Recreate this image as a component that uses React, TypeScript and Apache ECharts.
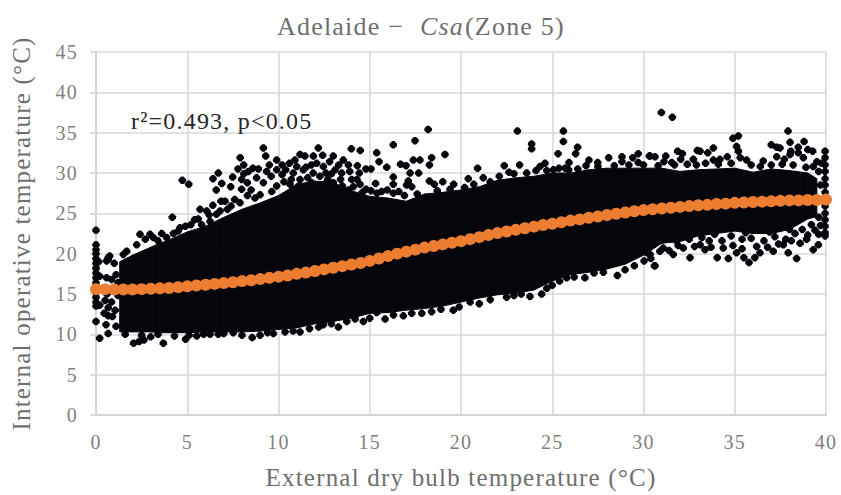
import React, { useEffect, useRef } from "react";
import * as echarts from "echarts";

const xTicks = [0, 5, 10, 15, 20, 25, 30, 35, 40];
const titleBefore = "Adelaide −";
const titleItalic = "Csa";
const titleAfter = "(Zone 5)";
const xName = "External dry bulb temperature (°C)";
const yName = "Internal operative temperature (°C)";
const note = "r²=0.493, p<0.05";

// Continuous dense cloud: [x, lower edge, upper edge]
const cloudBand: number[][] = [
  [1.3,10.3,19],[2,10.3,19.8],[3,10.3,20.8],[3.5,10.2,21.3],[4,10.2,21.7],[5,10.2,22.7],[6,10.3,23.4],[7,10.3,24.5],[8,10.3,25.5],[9,10.4,26.3],[10,10.6,27.2],
  [11,10.8,28.6],[12,11.3,29],[13,11.6,28.8],[14,12,27.8],[15,12.6,27.1],[16,12.7,26.9],[17,13,26.5],[18,13.2,27.4],[19,13.5,27.6],[20,14,27.9],
  [21,14.5,28.3],[22,14.9,29.1],[23,15.1,29.4],[24,15.5,29.6],[25,16.6,30],[26,17.4,30],[27,17.7,30.4],[28,18.1,30.6],[29,18.7,30.6],[30,19.8,30.6],
  [31,21.3,30.6],[32,21.5,30.2],[33,22.2,30.4],[34,22.5,30.5],[35,22.8,30.6],[36,22.5,30.1],[37,22.5,30.5],[38,23,30.3],[39,24.3,30],[39.5,24.6,29.3],
];

// Individually visible points around the cloud
const upperLeftPoints: number[][] = [
  [4.73,29.1],[5.08,28.6],[4.18,24.5],[4.6,23.2],[9.17,33.1],[9.3,32.1],[7.9,31.9],[8.09,31],[7.78,30.5],[6.7,30],[6.41,29.3],[6.89,28.7],[7.38,28.3],[6.59,27.9],[7.49,29.5],[7.98,29.2],
  [8.35,30.2],[8.29,28.8],[7.98,28],[8.8,29.4],[8.9,30.5],[9.35,30.2],[9.9,31.6],[9.17,28.8],[9.63,27.7],[8.71,26.9],[8.99,27.3],[6.85,26.5],[7.07,26.5],[7.4,25.9],[7.89,26.3],[5.7,25.5],[6.07,25.3],[5.6,24.3],[6.25,24],[5.79,23.6],
  [2.41,22.4],[2.96,22.4],[3.6,22.5],[4.24,22.5],[2.23,21.1],[1.68,20.3],[0.67,19.5],[0.58,19.1],[3.14,22],[3.87,22],[1.5,19.9],
  [8.5,27.9],[8.1,29.9],[8.6,30.6],[9.6,29.6],[9.9,30.4],[10.2,29.8],[10.3,28.9],[9.9,28.4],[10.2,31],[9.5,31],[6.4,26],[7.2,25.5],[6.8,25.3],[6.2,24.8],[5.2,23.6],[5.4,24.2],[6.6,24.9],[2.7,21.8],[3.4,21.6],[4.5,22.8],[4.9,23.4],[7.6,26.7],[8.3,27.2],
];
const upperMidPoints: number[][] = [
  [18.2,35.4],[17.48,34],[16.29,33.5],[12.18,33.1],[13.99,33],[14.48,32.8],[15.38,32.5],[19.12,32.3],[18.39,31.9],[15.51,31.4],[17.39,31.6],[17.75,31.6],[18.27,31],[16.69,31.1],[16.99,30.9],[15.93,30.7],[14.32,30.9],[14.79,30.5],[15.07,30.5],[14.43,30],[17.21,30],[17.68,30],[16.29,29.5],[20.91,30.6],[20.4,29.3],[19,28.9],[18.27,29],[18.54,28.6],[15.32,28.7],[16.29,28.6],[17.11,29],[17.3,28.3],[17.02,28.5],[19.6,28.6],[15.07,27.8],[15.65,27.7],[15.96,27.9],[16.29,27.5],[16.59,27.7],
  [11.18,32.3],[10.9,31.6],[11.45,32.1],[11.91,32.1],[12.42,32.2],[13,32.1],[13.55,31.6],[13.83,31],[11,30.8],[11.36,30.4],[12.09,31.2],[12.46,30.8],[13.1,30.4],[13.46,30],[12.27,29.6],[11.18,29.2],[10.81,30],[11.82,28.8],[13,28.8],[14.01,29.2],[14.47,28.6],[13.83,27.9],[12.82,28.3],[10.63,28.6],
  [10.7,29.2],[11.1,28.4],[11.6,29.4],[11.5,30.7],[12.7,29.2],[12.9,29.9],[12.5,28.6],[13.4,29.2],[13.5,28.4],[12.1,28.4],[13.9,30.2],[14.3,29.2],[14.1,28.3],[14.8,28],[10.4,30.4],[10.6,31.2],[11.8,31],[12.8,31.4],[13.3,31],[11.9,30],[12.6,30],[14.6,27.6],[15.4,27.5],[16.9,27.2],[17.6,27.4],[18.7,27.8],[19.4,28],[20.2,28.2],[20.7,28.6],[21.6,28.9],
];
const upperRightPoints: number[][] = [
  [23.09,35.2],[25.61,35.2],[25.61,33.9],[23.87,33.6],[23.87,33],[26.39,33.2],[25.32,32.4],[26.28,32.4],[21.22,29.4],[22.37,30.9],[23.21,31],[22.63,30.1],[24.6,31.2],[24.33,30.8],[24.11,30.3],[25.92,31.3],[27.01,31.6],[27.49,31.3],[28.09,31.9],[28.82,32],[28.82,31.4],[29.41,31.9],[29.71,32.4],[29.71,31.3],[30.32,32.1],[25.06,30.4],[25.37,30.6],[25.7,30.6],[26.85,30.9],
  [30.98,37.5],[31.58,36.9],[37.92,35.2],[34.9,34.3],[35.2,34.6],[35.1,33.3],[35.2,32.7],[38.03,33.8],[38.8,33.9],[37,33.5],[37.3,33.2],[37.48,33.1],[38.48,33.2],[38.07,32.7],[39,32.9],[39.27,32.7],[38.48,32.5],[38.76,31.9],[37.72,31.7],[37.3,32],[36.56,31.5],[38.03,32.3],[33.83,33.1],[33.52,32.5],[32.95,32.8],[33.1,32.7],[31.87,32.7],[32.13,32.4],[31.22,32.1],[30.36,32.1],[30.63,32],[32.73,31.7],[32.04,31.7],[31.12,31.4],[31.55,31.3],[33.83,31.6],[34.19,31.7],[34.59,32],[35.65,31.6],
  [22.1,29.6],[22.9,29.9],[23.6,30],[24.7,30.3],[25.9,30.4],[26.4,30.5],[27.5,30.8],[28.4,30.9],[29.2,31],[30,31],[30.8,30.9],[31.7,31],[32.4,31.1],[32.9,31],[33.4,31.2],[34.1,31.1],[34.8,31.2],[35.3,31.9],[35.9,31],[36.4,30.8],[37,31],[37.6,31.1],[38.2,31],[38.9,30.7],[39.3,30.8],[39.5,31.4],
];
const lowerPoints: number[][] = [
  [0.2,9.5],[2.06,8.9],[2.36,9.1],[2.63,9.3],[3.69,8.9],[4.91,9.4],[3,9.7],[5.52,9.8],[6.25,10],[6.7,10],[7.52,10.2],[8.56,9.6],[8.99,9.9],[9.72,10.1],[0.67,10.1],[0.55,11.2],[0.67,12.3],[0.67,13.3],[0.58,17],[0.67,19.3],
  [15.38,12.7],[16.84,12.3],[15.84,11.9],[14.65,11.6],[13.74,11.6],[13.28,10.9],[12.46,11.2],[11.18,10.3],[10.36,10.3],[17.85,12.6],[18.39,12.8],[19.58,13],[21,13.8],[22.5,14.6],[23.78,14.7],[24.42,15],[25,16.1],[25.79,17],[26.79,17],[27.29,17.6],[28.57,17.3],[28.99,18],[30.03,19.1],[30.63,18.5],
  [30.6,18.5],[30.36,19.9],[30.9,20.3],[31.63,19.9],[32.55,19.5],[33.37,20.5],[34.04,19.5],[34.65,19.4],[35.5,19.5],[35.78,18.9],[36.1,19.5],[38.39,19.4],[37.93,20.1],[37.11,20.3],[36.38,20.1],[35.1,20.1],[39.3,20.5],[39.58,21.1],[38.94,21.8],[38.58,21.3],[37.66,21.1],[36.2,20.9],[34.37,20.7],[33.1,21.1],[32.18,20.7],[31.08,20.7],[30.18,20.1],
  [1.6,10],[2.5,9.9],[3.4,10],[4.3,9.8],[5.1,9.9],[5.9,10],[7,10.1],[8,9.9],[9.4,10.2],[10.8,10.4],[11.7,10.7],[12.2,10.9],[12.9,11.3],[14.2,11.9],[15,12],[16.3,12.4],[17.3,12.6],[18.9,13.1],[19.9,13.4],[20.5,14],[21.6,14.3],[22.9,14.8],[23.3,15],[24.7,15.7],[25.4,16.6],[26.2,17.1],[27.8,17.7],[29.5,18.5],[30.4,19.4],[31.4,20.4],[31.9,21],[32.8,20.9],[33.7,20.8],[34.9,21],[35.4,20.6],[36.8,20.8],[37.4,21.2],[38.1,21.6],[39,22.3],[39.4,22.9],
  [31,21.7],[31.8,21.6],[32.5,21.8],[33.2,22],[33.6,21.6],[34.3,21.6],[34.8,22.2],[35.4,21.8],[35.9,21.9],[36.6,21.6],[37.2,22.1],[37.8,21.8],[38.3,22.5],[38.7,23],[39.2,23.6],[39.6,22.4],[33.9,22.4],[35.6,22.6],[36.9,22.7],[38,23],
];
const leftColumnPoints: number[][] = [
  [0,22.9],[0,21.1],[0,20.5],[0,20],[0,19.4],[0,18.8],[0,18.2],[0,17.6],[0,17],[0,16.4],[0,15.8],[0,15.2],[0,14.6],[0,14],[0,13.5],[0,11.6],[0.15,19],[0.2,17.2],[0.2,13.6],[0.45,12.6],[0.5,14.2],[0.6,15],[0.85,14],[0.9,12.2],[0.85,16.8],[1,18.8],[1.05,13],[1.1,11],[1.1,17.4],[1.2,16.4],[1.2,14.8],[0.75,19.7],
];
const rightColumnPoints: number[][] = [
  [39.95,32.7],[39.95,31.9],[39.95,31],[39.95,30.2],[39.95,29.3],[39.95,28.5],[39.95,27.6],[39.95,26.8],[39.95,25.9],[39.95,25],[39.95,24.2],[39.95,23.4],[39.95,22.6],[39.95,22.2],[39.76,31.2],[39.6,30.2],[39.7,28.5],[39.6,24.5],[39.7,23.5],
];
const trendX = [0,0.5,1,1.5,2,2.5,3,3.5,4,4.5,5,5.5,6,6.5,7,7.5,8,8.5,9,9.5,10,10.5,11,11.5,12,12.5,13,13.5,14,14.5,15,15.5,16,16.5,17,17.5,18,18.5,19,19.5,20,20.5,21,21.5,22,22.5,23,23.5,24,24.5,25,25.5,26,26.5,27,27.5,28,28.5,29,29.5,30,30.5,31,31.5,32,32.5,33,33.5,34,34.5,35,35.5,36,36.5,37,37.5,38,38.5,39,39.5,40];
const trendY = [15.6,15.6,15.55,15.55,15.55,15.6,15.65,15.7,15.75,15.85,15.95,16.05,16.15,16.25,16.35,16.45,16.6,16.7,16.85,17,17.15,17.3,17.5,17.65,17.85,18.05,18.25,18.45,18.65,18.85,19.1,19.4,19.7,20,20.25,20.5,20.75,20.95,21.15,21.35,21.55,21.8,22.05,22.3,22.55,22.75,22.95,23.15,23.35,23.55,23.7,23.9,24.1,24.25,24.45,24.6,24.8,24.95,25.1,25.25,25.4,25.5,25.6,25.7,25.8,25.9,26,26.05,26.15,26.2,26.3,26.35,26.4,26.45,26.5,26.55,26.6,26.6,26.65,26.65,26.7];

const serif = "'Liberation Serif', serif";
const ink = "#05060c";
const softDiamond = "path://M3.5 0H6.5L10 3.5V6.5L6.5 10H3.5L0 6.5V3.5Z";

export default function App() {
  const ref = useRef<HTMLDivElement>(null);
  useEffect(() => {
    document.body.style.margin = "0";
    const chart = echarts.init(ref.current!, undefined, { renderer: "svg" });
    chart.setOption({
      animation: false,
      backgroundColor: "#ffffff",
      textStyle: { fontFamily: serif },
      graphic: [
        { type: "text", x: 277, y: 13, z: 20, style: { text: titleBefore, fontFamily: serif, fontSize: 26, fill: "#6e6e6e" } },
        { type: "text", x: 420, y: 13, z: 20, style: { text: titleItalic, fontFamily: serif, fontStyle: "italic", fontSize: 26, fill: "#6e6e6e" } },
        { type: "text", x: 465, y: 13, z: 20, style: { text: titleAfter, fontFamily: serif, fontSize: 26, fill: "#6e6e6e" } },
        { type: "text", x: 131, y: 109, z: 20, style: { text: note, fontFamily: serif, fontSize: 24, fill: "#262626" } },
      ],
      grid: { left: 96, right: 15, top: 52, bottom: 79 },
      xAxis: {
        type: "value", min: 0, max: 40, interval: 5,
        name: xName, nameLocation: "middle", nameGap: 50,
        nameTextStyle: { fontFamily: serif, fontSize: 25, color: "#6e6e6e" },
        axisLine: { show: true, onZero: false, lineStyle: { color: "#d4d4d4", width: 2 } },
        axisTick: { show: false },
        axisLabel: { fontFamily: serif, fontSize: 20, color: "#808080", margin: 17 },
        splitLine: { show: true, lineStyle: { color: "#d9d9d9", width: 1.6 } },
      },
      yAxis: {
        type: "value", min: 0, max: 45, interval: 5,
        name: yName, nameLocation: "middle", nameGap: 62,
        nameTextStyle: { fontFamily: serif, fontSize: 25, color: "#6e6e6e" },
        axisLine: { show: true, onZero: false, lineStyle: { color: "#d4d4d4", width: 2 } },
        axisTick: { show: true, length: 6, lineStyle: { color: "#d4d4d4", width: 1.6 } },
        axisLabel: { fontFamily: serif, fontSize: 20, color: "#808080", margin: 18 },
        splitLine: { show: true, lineStyle: { color: "#d9d9d9", width: 1.6 } },
      },
      series: [
        {
          type: "custom",
          data: cloudBand,
          clip: false,
          z: 2,
          renderItem: (params: any, api: any) => {
            const i = params.dataIndex;
            if (i >= cloudBand.length - 1) return null;
            const next = cloudBand[i + 1];
            const pts = [
              api.coord([api.value(0), api.value(1)]),
              api.coord([next[0], next[1]]),
              api.coord([next[0], next[2]]),
              api.coord([api.value(0), api.value(2)]),
            ];
            return {
              type: "polygon",
              shape: { points: pts },
              style: { fill: ink, stroke: ink, lineWidth: 1 },
            };
          },
        },
        ...[upperLeftPoints, upperMidPoints, upperRightPoints, lowerPoints, leftColumnPoints, rightColumnPoints].map((d) => ({
          type: "scatter", data: d, symbol: softDiamond, symbolSize: 7.5, clip: false, z: 3,
          itemStyle: { color: ink, opacity: 1 },
        })),
        {
          type: "scatter",
          data: trendX.map((x, i) => [x, trendY[i]]),
          symbol: "circle", symbolSize: 12, clip: false, z: 5,
          itemStyle: { color: "#ed7d31", opacity: 1 },
        },
      ],
    });
    return () => chart.dispose();
  }, []);
  return <div ref={ref} style={{ width: 841, height: 495, letterSpacing: "1.2px" }} />;
}
